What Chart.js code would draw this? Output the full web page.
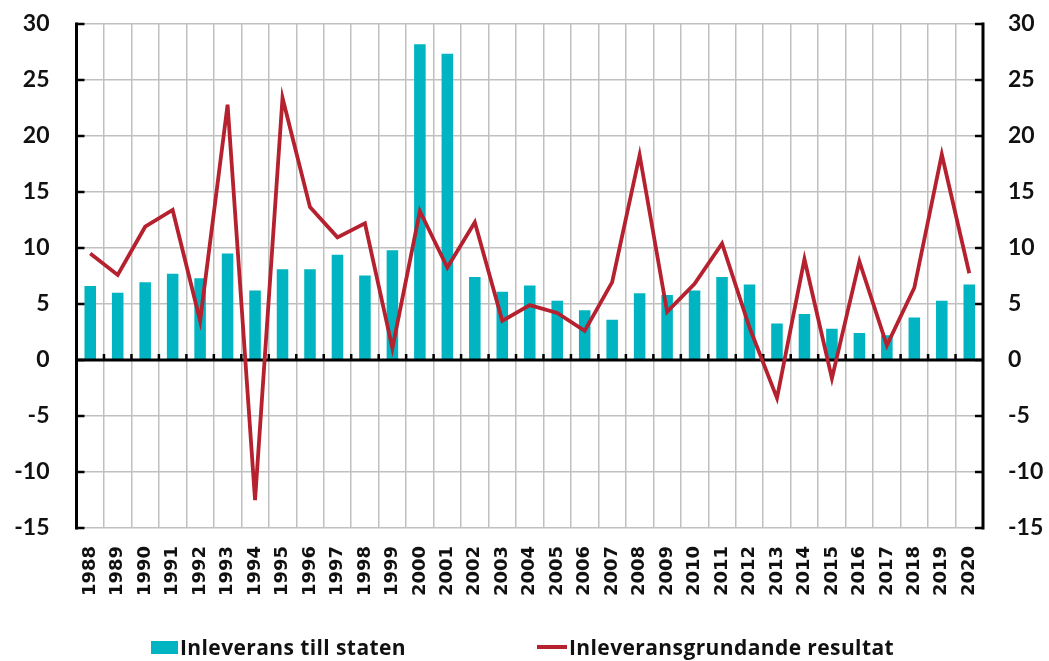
<!DOCTYPE html>
<html lang="sv">
<head>
<meta charset="utf-8">
<title>Inleverans till staten</title>
<script src="https://cdn.jsdelivr.net/npm/chart.js@4/dist/chart.umd.min.js"></script>
<style>
    html, body { margin: 0; padding: 0; background: #fff; }
    .wrap { position: relative; width: 1049px; height: 661px; }
    .legend-item {
        position: absolute;
        top: 634px;
        height: 26px;
        line-height: 26px;
        font-family: "Open Sans", Lato, sans-serif;
        font-weight: bold;
        font-size: 21px;
        letter-spacing: 0.4px;
        color: #111;
        white-space: nowrap;
    }
    .legend-item .swatch { position: absolute; }
</style>
</head>
<body>
<div class="wrap">
    <canvas id="chart" width="1049" height="661"></canvas>
    <div class="legend-item" style="left:151px;">
        <span class="swatch" style="left:0;top:7px;width:27px;height:13px;background:#00b5c1;"></span>
        <span style="padding-left:29px;">Inleverans till staten</span>
    </div>
    <div class="legend-item" style="left:537px;">
        <span class="swatch" style="left:0;top:11px;width:30px;height:4px;background:#b5212f;"></span>
        <span style="padding-left:32px;">Inleveransgrundande resultat</span>
    </div>
</div>
<script>
const years = ['1988', '1989', '1990', '1991', '1992', '1993', '1994', '1995', '1996', '1997', '1998',
    '1999', '2000', '2001', '2002', '2003', '2004', '2005', '2006', '2007', '2008', '2009', '2010',
    '2011', '2012', '2013', '2014', '2015', '2016', '2017', '2018', '2019', '2020'];

const inleverans = [6.6, 6.0, 6.95, 7.7, 7.3, 9.5, 6.2, 8.1, 8.1, 9.4, 7.55,
    9.8, 28.2, 27.35, 7.4, 6.1, 6.65, 5.3, 4.45, 3.6, 5.95, 5.8, 6.2,
    7.4, 6.75, 3.25, 4.1, 2.8, 2.4, 2.2, 3.8, 5.3, 6.75];

const resultat = [9.5, 7.6, 11.9, 13.4, 3.5, 22.8, -12.5, 23.4, 13.65, 10.95, 12.2,
    1.05, 13.3, 8.25, 12.3, 3.5, 4.9, 4.2, 2.6, 6.95, 18.3, 4.3, 6.8,
    10.4, 2.9, -3.4, 9.0, -1.65, 8.8, 1.3, 6.45, 18.35, 7.75];

const yMin = -15;
const yMax = 30;
const yStep = 5;

document.addEventListener('DOMContentLoaded', function() {
    const ctx = document.getElementById('chart').getContext('2d');

    // axis lines, inward ticks and the zero line, drawn after the bars
    const axisPlugin = {
        id: 'axisLines',
        afterDatasetDraw(chart, args) {
            if (args.meta.type !== 'bar') return;
            const c = chart.ctx;
            const area = chart.chartArea;
            const x = chart.scales.x;
            const y = chart.scales.y;
            const zero = y.getPixelForValue(0);

            c.save();
            c.strokeStyle = '#000';

            // zero line
            c.lineWidth = 3;
            c.beginPath();
            c.moveTo(area.left, zero);
            c.lineTo(area.right, zero);
            c.stroke();

            // small ticks on the zero line between years
            c.lineWidth = 2.5;
            for (let i = 1; i < years.length; i++) {
                const px = x.getPixelForValue(i - 0.5);
                c.beginPath();
                c.moveTo(px, zero);
                c.lineTo(px, zero - 6);
                c.stroke();
            }

            // left and right axes
            c.lineWidth = 3;
            c.beginPath();
            c.moveTo(area.left, area.top - 1.5);
            c.lineTo(area.left, area.bottom + 1.5);
            c.moveTo(area.right, area.top - 1.5);
            c.lineTo(area.right, area.bottom + 1.5);
            c.stroke();
            c.lineWidth = 2.5;
            for (let v = yMin; v <= yMax; v += yStep) {
                const py = y.getPixelForValue(v);
                c.beginPath();
                c.moveTo(area.left, py);
                c.lineTo(area.left + 8, py);
                c.moveTo(area.right, py);
                c.lineTo(area.right - 8, py);
                c.stroke();
            }
            c.restore();
        }
    };

    const tickFont = { family: 'Lato, "Open Sans", sans-serif', size: 23, weight: 'bold' };

    new Chart(ctx, {
        type: 'bar',
        data: {
            labels: years,
            datasets: [{
                type: 'line',
                label: 'Inleveransgrundande resultat',
                data: resultat,
                borderColor: '#b5212f',
                borderWidth: 3.8,
                pointRadius: 0,
                tension: 0,
                order: 0,
                yAxisID: 'y'
            }, {
                type: 'bar',
                label: 'Inleverans till staten',
                data: inleverans,
                backgroundColor: '#00b5c1',
                categoryPercentage: 1,
                barPercentage: 0.42,
                order: 1,
                yAxisID: 'y'
            }]
        },
        options: {
            responsive: false,
            animation: false,
            layout: { padding: { top: 24, left: 0, right: 0, bottom: 0 } },
            plugins: {
                legend: { display: false },
                tooltip: { enabled: false }
            },
            scales: {
                x: {
                    offset: true,
                    grid: { offset: true, color: '#c0c0c0', lineWidth: 1.5, drawTicks: false },
                    border: { display: false },
                    ticks: {
                        minRotation: 90,
                        maxRotation: 90,
                        padding: 18,
                        color: '#111',
                        font: { family: '"DejaVu Sans", Verdana, sans-serif', size: 18, weight: 'bold' }
                    },
                    afterFit(scale) { scale.height = 133; scale.paddingLeft = 0; scale.paddingRight = 0; }
                },
                y: {
                    position: 'left',
                    min: yMin,
                    max: yMax,
                    grid: {
                        color: '#c0c0c0',
                        lineWidth: 1.5,
                        drawTicks: false
                    },
                    border: { display: false },
                    ticks: { stepSize: yStep, padding: 27, color: '#111', font: tickFont },
                    afterFit(scale) { scale.width = 76.5; scale.paddingTop = 0; scale.paddingBottom = 0; }
                },
                y2: {
                    position: 'right',
                    min: yMin,
                    max: yMax,
                    grid: { display: false, drawTicks: false },
                    border: { display: false },
                    ticks: { stepSize: yStep, padding: 25, color: '#111', font: tickFont },
                    afterFit(scale) { scale.width = 66; scale.paddingTop = 0; scale.paddingBottom = 0; }
                }
            }
        },
        plugins: [axisPlugin]
    });
});
</script>
</body>
</html>
